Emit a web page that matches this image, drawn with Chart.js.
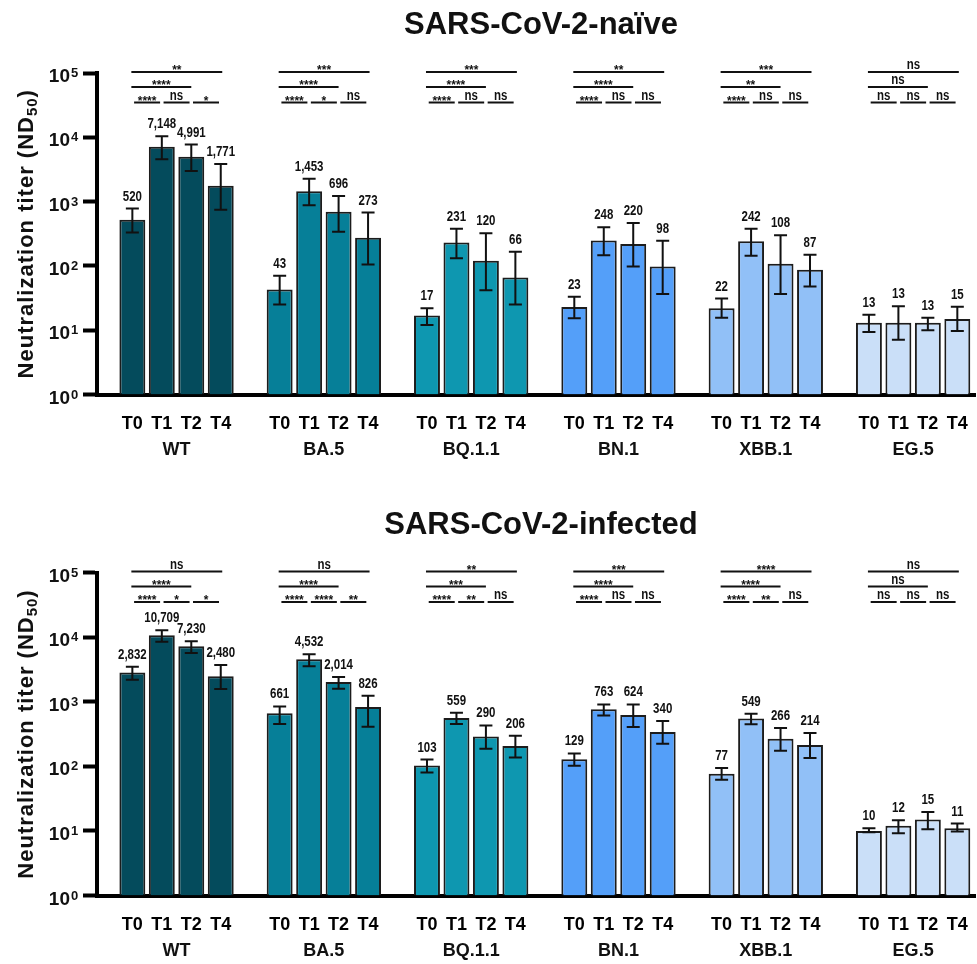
<!DOCTYPE html>
<html lang="en">
<head>
  <meta charset="UTF-8">
  <title>Neutralization titers</title>
  <script src="https://cdn.jsdelivr.net/npm/chart.js"></script>
  <style>
    body { margin: 0; background: #fff; }
    .panel { position: absolute; left: 0; width: 977px; height: 482px; }
  </style>
</head>
<body>
  <div class="panel" style="top:0"><canvas id="naiveChart" width="977" height="482"></canvas></div>
  <div class="panel" style="top:482px"><canvas id="infectedChart" width="977" height="482"></canvas></div>

  <script>
    // categories
    const variants = ['WT', 'BA.5', 'BQ.1.1', 'BN.1', 'XBB.1', 'EG.5'];
    const timepoints = ['T0', 'T1', 'T2', 'T4'];
    const variantColors = ['#044b5c', '#067f98', '#0e97b0', '#549ff9', '#91c0f7', '#cadff8'];
    const yTicks = [1, 10, 100, 1000, 10000, 100000];

    // SARS-CoV-2-naive (GMT with error range), order: variant x timepoint
    const naiveGMT = [520, 7148, 4991, 1771, 43, 1453, 696, 273, 17, 231, 120, 66,
                      23, 248, 220, 98, 22, 242, 108, 87, 13, 13, 13, 15];
    const naiveLow = [330, 4550, 2990, 750, 25, 880, 340, 105, 12, 131, 42, 25,
                      15.3, 146, 98, 36.5, 15.6, 144, 36.5, 48, 9.4, 7.1, 10, 9.7];
    const naiveHigh = [780, 10400, 7700, 3850, 70, 2270, 1220, 675, 22, 378, 321, 166,
                       33, 398, 465, 246, 31, 378, 299, 149, 17.4, 23.5, 15.6, 23.2];
    const naiveSigT0T4 = ['**', '***', '***', '**', '***', 'ns'];
    const naiveSigT0T2 = ['****', '****', '****', '****', '**', 'ns'];
    const naiveSigPairs = [['****', 'ns', '*'], ['****', '*', 'ns'], ['****', 'ns', 'ns'],
                           ['****', 'ns', 'ns'], ['****', 'ns', 'ns'], ['ns', 'ns', 'ns']];

    // SARS-CoV-2-infected
    const infectedGMT = [2832, 10709, 7230, 2480, 661, 4532, 2014, 826, 103, 559, 290, 206,
                         129, 763, 624, 340, 77, 549, 266, 214, 10, 12, 15, 11];
    const infectedLow = [2190, 8510, 5690, 1570, 450, 3530, 1590, 410, 80, 451, 187, 137,
                         102, 613, 405, 223, 62, 446, 174, 135, 9.5, 9.2, 10.6, 9.8];
    const infectedHigh = [3490, 12740, 8610, 3710, 846, 5410, 2415, 1240, 127, 675, 429, 297,
                          158, 908, 908, 501, 94, 652, 391, 327, 11, 14.6, 19.7, 13];
    const infectedSigT0T4 = ['ns', 'ns', '**', '***', '****', 'ns'];
    const infectedSigT0T2 = ['****', '****', '***', '****', '****', 'ns'];
    const infectedSigPairs = [['****', '*', '*'], ['****', '****', '**'], ['****', '**', 'ns'],
                              ['****', 'ns', 'ns'], ['****', '**', 'ns'], ['ns', 'ns', 'ns']];

    const FONT = '"Liberation Sans", Arial, Helvetica, sans-serif';
    // x slot of each bar: 4 bars per variant plus one empty slot between variants
    const xPos = [];
    variants.forEach((v, g) => timepoints.forEach((t, i) => xPos.push(g * 5 + i)));

    // is a narrow font installed?
    const probe = document.createElement('canvas').getContext('2d');
    function hasFont(name) {
      probe.font = '20px monospace';
      const a = probe.measureText('mmmiiil0,').width;
      probe.font = `20px "${name}", monospace`;
      return probe.measureText('mmmiiil0,').width !== a;
    }
    const NARROW = hasFont('Liberation Sans Narrow');

    function narrowText(ctx, text, x, y, size) {
      if (NARROW) {
        ctx.font = `bold ${size}px "Liberation Sans Narrow"`;
        ctx.fillText(text, x, y);
      } else {
        ctx.save();
        ctx.translate(x, y);
        ctx.scale(0.82, 1);
        ctx.font = `bold ${size}px ${FONT}`;
        ctx.fillText(text, 0, 0);
        ctx.restore();
      }
    }

    // draws error bars, value labels, significance brackets, titles and y labels
    const annotate = {
      id: 'annotate',
      afterDatasetsDraw(chart, args, opts) {
        const { ctx, chartArea, scales: { x, y } } = chart;
        ctx.save();
        ctx.fillStyle = '#111';
        ctx.strokeStyle = '#111';

        // error bars + numbers
        ctx.lineWidth = 2;
        ctx.textAlign = 'center';
        ctx.textBaseline = 'alphabetic';
        opts.gmt.forEach((v, i) => {
          const px = x.getPixelForValue(xPos[i]);
          const yl = y.getPixelForValue(opts.low[i]);
          const yh = y.getPixelForValue(opts.high[i]);
          ctx.beginPath();
          ctx.moveTo(px, yl); ctx.lineTo(px, yh);
          ctx.moveTo(px - 6.5, yl); ctx.lineTo(px + 6.5, yl);
          ctx.moveTo(px - 6.5, yh); ctx.lineTo(px + 6.5, yh);
          ctx.stroke();
          narrowText(ctx, v.toLocaleString('en-US'), px, yh - 8, 14);
        });

        // significance brackets
        const rows = [chartArea.top - 1, chartArea.top + 14, chartArea.top + 29.5];
        function bracket(x1, x2, ly, label) {
          ctx.lineWidth = 2;
          ctx.beginPath();
          ctx.moveTo(x1, ly); ctx.lineTo(x2, ly);
          ctx.stroke();
          const cx = (x1 + x2) / 2;
          if (label === 'ns') {
            narrowText(ctx, label, cx, ly - 3, 14);
          } else {
            ctx.font = `bold 12px ${FONT}`;
            ctx.fillText(label, cx, ly + 2);
          }
        }
        variants.forEach((name, g) => {
          const c = k => x.getPixelForValue(g * 5 + k);
          bracket(c(0) - 1, c(3) + 1.5, rows[0], opts.sigT0T4[g]);
          bracket(c(0) - 1, c(2), rows[1], opts.sigT0T2[g]);
          for (let k = 0; k < 3; k++) {
            const mid = (c(k) + c(k + 1)) / 2;
            bracket(mid - 13, mid + 13, rows[2], opts.sigPairs[g][k]);
          }
          // variant name under the timepoints
          ctx.font = `bold 18px ${FONT}`;
          ctx.textBaseline = 'middle';
          ctx.fillText(name, (c(0) + c(3)) / 2, chartArea.bottom + 56);
          ctx.textBaseline = 'alphabetic';
        });

        // y tick labels 10^n
        yTicks.forEach(v => {
          const py = y.getPixelForValue(v);
          ctx.textAlign = 'right';
          ctx.font = `bold 19px ${FONT}`;
          ctx.fillText('10', 70, py + 9);
          ctx.textAlign = 'left';
          ctx.font = `bold 13px ${FONT}`;
          ctx.fillText(String(Math.round(Math.log10(v))), 71, py + 4);
        });

        // y axis title with subscript
        const main = 'Neutralization titer (ND';
        ctx.save();
        ctx.letterSpacing = '1px';
        ctx.font = `bold 22px ${FONT}`;
        const wMain = ctx.measureText(main).width;
        const wClose = ctx.measureText(')').width;
        ctx.font = `bold 15px ${FONT}`;
        const wSub = ctx.measureText('50').width;
        const total = wMain + wSub + wClose;
        ctx.translate(25, (chartArea.top + chartArea.bottom) / 2);
        ctx.rotate(-Math.PI / 2);
        ctx.textAlign = 'left';
        ctx.font = `bold 22px ${FONT}`;
        ctx.fillText(main, -total / 2, 8);
        ctx.font = `bold 15px ${FONT}`;
        ctx.fillText('50', -total / 2 + wMain, 12);
        ctx.font = `bold 22px ${FONT}`;
        ctx.fillText(')', -total / 2 + wMain + wSub, 8);
        ctx.restore();

        // panel title
        ctx.textAlign = 'center';
        ctx.textBaseline = 'middle';
        ctx.font = `bold 31px ${FONT}`;
        ctx.fillText(opts.title, (chartArea.left + chartArea.right) / 2 + 5, opts.titleY);
        ctx.restore();
      }
    };

    function makeChart(canvasId, panel) {
      return new Chart(document.getElementById(canvasId), {
        type: 'bar',
        data: {
          datasets: [{
            data: panel.gmt.map((v, i) => ({ x: xPos[i], y: v })),
            backgroundColor: panel.gmt.map((v, i) => variantColors[Math.floor(i / 4)]),
            borderColor: '#1c1c1c',
            borderWidth: 2,
            barPercentage: 0.88,
            categoryPercentage: 1
          }]
        },
        options: {
          responsive: false,
          animation: false,
          layout: { padding: { top: panel.padTop, right: 2, left: 0, bottom: 0 } },
          plugins: {
            legend: { display: false },
            tooltip: { enabled: false },
            annotate: panel
          },
          scales: {
            x: {
              type: 'linear',
              offset: false,
              min: -1.2,
              max: 28.6,
              grid: { display: false, drawTicks: false },
              border: { display: true, width: 4, color: '#000' },
              afterBuildTicks: s => { s.ticks = xPos.map(v => ({ value: v })); },
              afterFit: s => {
                s.height = panel.xHeight;
                s.paddingLeft = 0;
                s.paddingRight = 0;
              },
              ticks: {
                autoSkip: false,
                maxRotation: 0,
                padding: 19,
                color: '#000',
                font: { family: FONT, size: 18, weight: 'bold' },
                callback: v => timepoints[Math.round(v) % 5]
              }
            },
            y: {
              type: 'logarithmic',
              min: 1,
              max: 100000,
              afterBuildTicks: s => { s.ticks = yTicks.map(v => ({ value: v })); },
              afterFit: s => { s.width = 97; },
              grid: {
                display: true, drawOnChartArea: false, drawTicks: true,
                tickLength: 14, tickWidth: 4, tickColor: '#000'
              },
              border: { display: true, width: 4, color: '#000' },
              ticks: { display: false }
            }
          }
        },
        plugins: [annotate]
      });
    }

    makeChart('naiveChart', {
      title: 'SARS-CoV-2-naïve', titleY: 25, padTop: 73, xHeight: 87.5,
      gmt: naiveGMT, low: naiveLow, high: naiveHigh,
      sigT0T4: naiveSigT0T4, sigT0T2: naiveSigT0T2, sigPairs: naiveSigPairs
    });
    makeChart('infectedChart', {
      title: 'SARS-CoV-2-infected', titleY: 43, padTop: 90.5, xHeight: 68.5,
      gmt: infectedGMT, low: infectedLow, high: infectedHigh,
      sigT0T4: infectedSigT0T4, sigT0T2: infectedSigT0T2, sigPairs: infectedSigPairs
    });
  </script>
</body>
</html>
